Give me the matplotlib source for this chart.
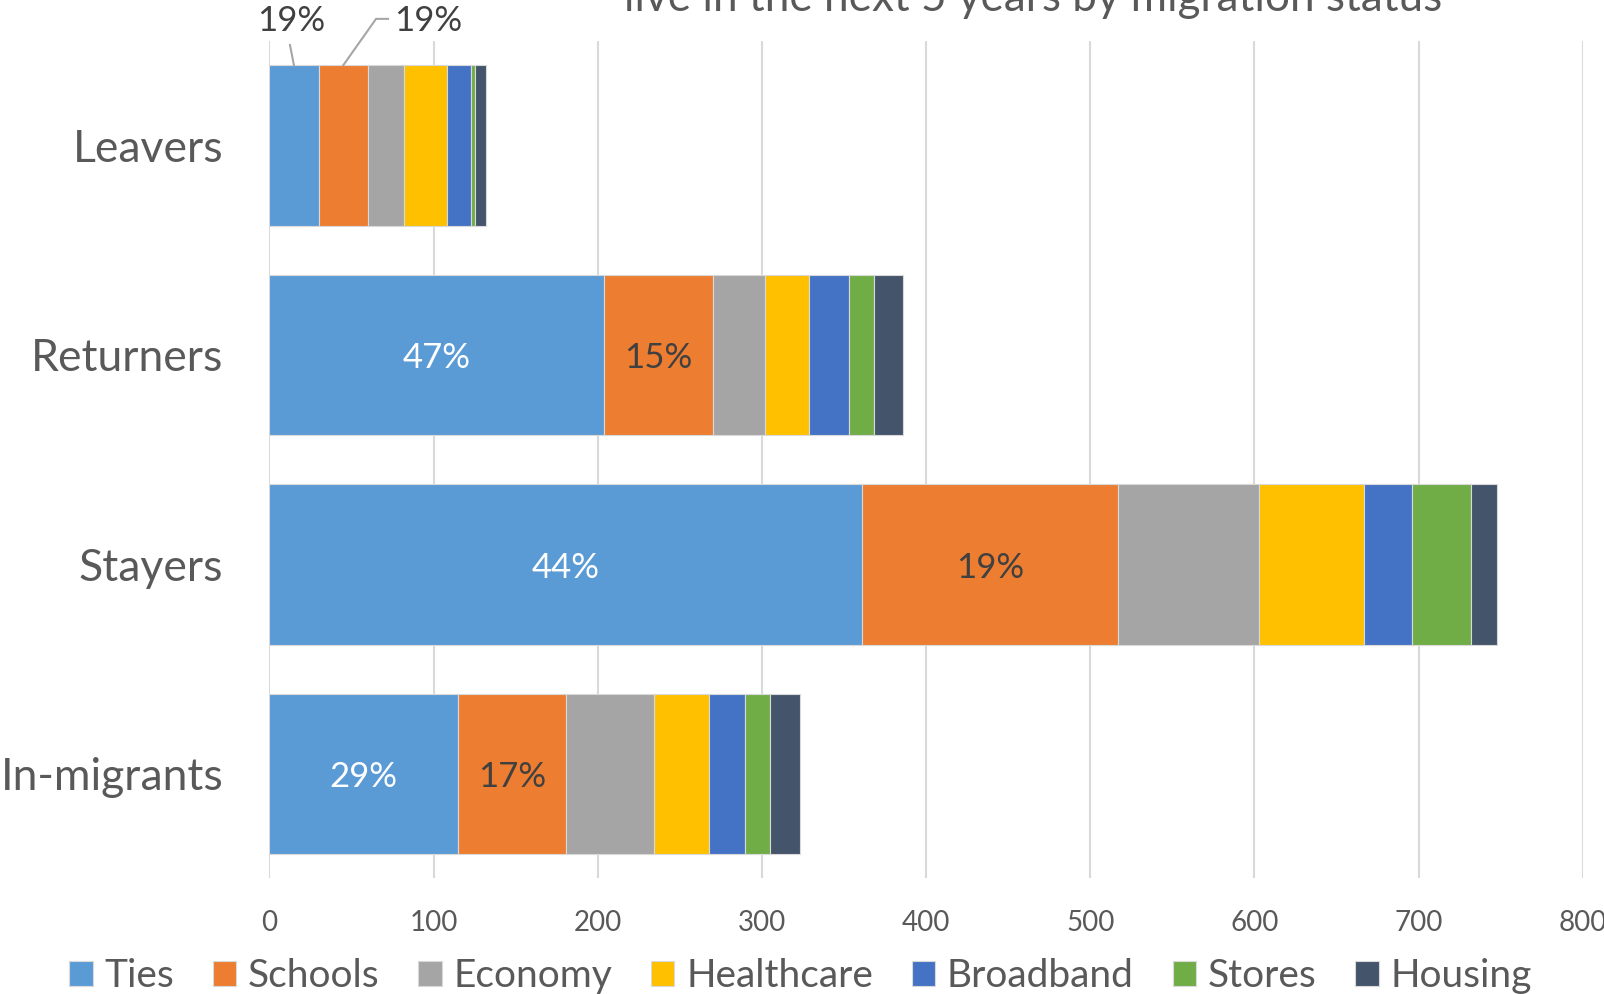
import matplotlib
matplotlib.use("Agg")
import matplotlib.pyplot as plt
import numpy as np

plt.rcParams['font.family'] = ['Lato', 'DejaVu Sans']

categories = ["Leavers", "Returners", "Stayers", "In-migrants"]
series_names = ["Ties", "Schools", "Economy", "Healthcare", "Broadband", "Stores", "Housing"]
ties = [30, 204, 361, 115]
schools = [30, 66, 156, 66]
economy = [22, 32, 86, 53]
healthcare = [26, 27, 64, 34]
broadband = [15, 24, 29, 22]
stores = [2, 15, 36, 15]
housing = [7, 18, 16, 18]
ties_labels = ["19%", "47%", "44%", "29%"]
schools_labels = ["19%", "15%", "19%", "17%"]
x_ticks = [0, 100, 200, 300, 400, 500, 600, 700, 800]
title_text = "live in the next 5 years by migration status"

colors = ["#5B9BD5", "#ED7D31", "#A5A5A5", "#FFC000", "#4472C4", "#70AD47", "#44546A"]
values = [ties, schools, economy, healthcare, broadband, stores, housing]

fig = plt.figure(figsize=(16.04, 9.94), dpi=100)
ax = fig.add_axes([0.1679, 0.1162, 0.8189, 0.8427])

y = np.arange(len(categories))
bar_h = 0.766
left = np.zeros(len(categories))
bars = []
for name, vals, c in zip(series_names, values, colors):
    b = ax.barh(y, vals, left=left, height=bar_h, color=c, edgecolor="#D9D9D9",
                linewidth=0.8, label=name, zorder=3)
    bars.append(b)
    left = left + np.array(vals)

ax.set_xlim(0, 800)
ax.set_ylim(len(categories) - 0.5, -0.5)
ax.set_xticks(x_ticks)
ax.set_xticklabels([str(t) for t in x_ticks])
ax.set_yticks(y)
ax.set_yticklabels(categories)
ax.tick_params(axis='x', length=0, pad=23, labelsize=20, labelcolor="#595959")
ax.tick_params(axis='y', length=0, pad=33, labelsize=32, labelcolor="#595959")
for s in ax.spines.values():
    s.set_visible(False)
ax.grid(axis='x', color="#D9D9D9", linewidth=1.5, zorder=0)
ax.set_axisbelow(True)

# data labels inside bars (rows 1..3)
dy = 0.015
for i in range(1, len(categories)):
    cx = ties[i] / 2
    ax.text(cx, y[i] + dy, ties_labels[i], ha='center', va='center', color='white',
            fontsize=25, zorder=5)
    sx = ties[i] + schools[i] / 2
    ax.text(sx, y[i] + dy, schools_labels[i], ha='center', va='center', color='#404040',
            fontsize=25, zorder=5)

# Leavers labels above with leader lines
top = y[0] - bar_h / 2
lbl_y = -0.593
c1 = ties[0] / 2
c2 = ties[0] + schools[0] / 2
ax.text(13.2, lbl_y, ties_labels[0], ha='center', va='center', color='#404040',
        fontsize=25, clip_on=False)
ax.plot([12.6, c1], [-0.48, top], color="#A6A6A6", linewidth=1.5, clip_on=False, zorder=4)
ax.text(97, lbl_y, schools_labels[0], ha='center', va='center', color='#404040',
        fontsize=25, clip_on=False)
ax.plot([72.3, 65, c2], [-0.605, -0.605, top], color="#A6A6A6", linewidth=1.5,
        clip_on=False, zorder=4)

fig.text(0.644, 1 - 11 / 994, title_text, ha='center', va='baseline',
         fontsize=31.7, color="#595959")

leg = fig.legend(handles=bars, labels=series_names, loc='center', ncol=7,
                 bbox_to_anchor=(0.499, 0.018), frameon=False, fontsize=28,
                 handlelength=0.6, handleheight=0.6, handletextpad=0.3,
                 columnspacing=1.0, labelcolor="#595959", borderpad=0)

fig.savefig("out.png", dpi=100)
